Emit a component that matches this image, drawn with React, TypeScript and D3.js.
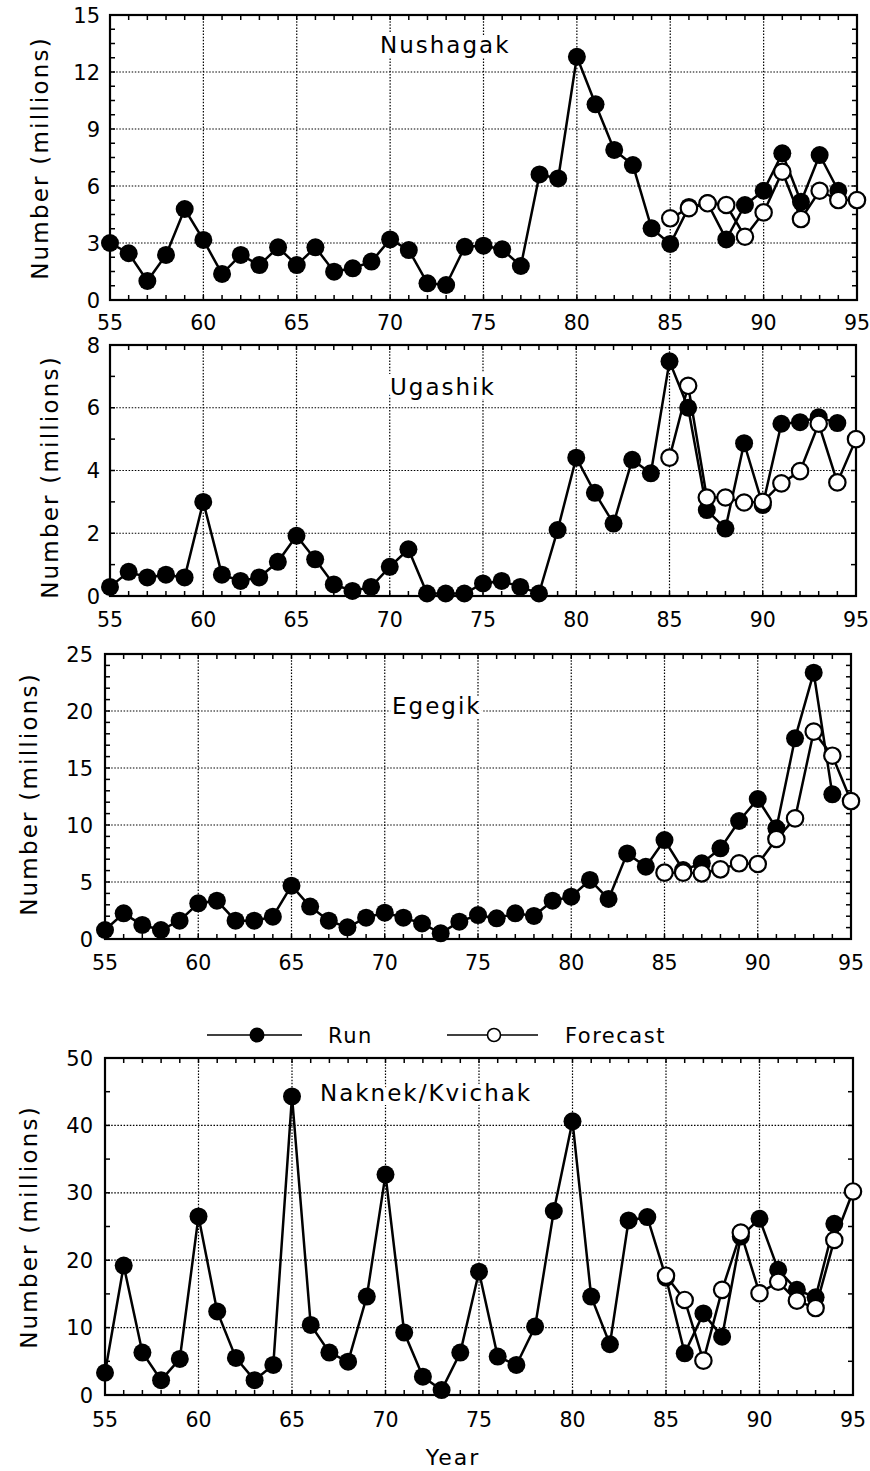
import React from "react";
import * as d3 from "d3";

// ---------- data ----------
const runYears = [55,56,57,58,59,60,61,62,63,64,65,66,67,68,69,70,71,72,73,74,75,76,77,78,79,80,81,82,83,84,85,86,87,88,89,90,91,92,93,94];
const forecastYears = [85,86,87,88,89,90,91,92,93,94,95];
const xTickYears = [55,60,65,70,75,80,85,90,95];

const nushagakRun = [3.0,2.46,1.0,2.37,4.79,3.16,1.37,2.37,1.84,2.77,1.84,2.77,1.49,1.67,2.02,3.19,2.63,0.88,0.79,2.8,2.86,2.67,1.79,6.61,6.4,12.8,10.3,7.9,7.1,3.77,2.95,4.9,5.1,3.19,5.0,5.75,7.72,5.17,7.63,5.75];
const nushagakForecast = [4.3,4.83,5.09,5.0,3.33,4.61,6.75,4.26,5.75,5.26,5.26];

const ugashikRun = [0.29,0.77,0.59,0.68,0.59,3.0,0.68,0.48,0.59,1.09,1.92,1.17,0.37,0.16,0.29,0.93,1.49,0.08,0.08,0.08,0.4,0.48,0.29,0.08,2.1,4.41,3.29,2.31,4.34,3.91,7.48,6.0,2.74,2.15,4.87,2.9,5.49,5.54,5.7,5.51];
const ugashikForecast = [4.41,6.7,3.14,3.14,2.98,3.0,3.59,3.98,5.49,3.62,5.0];

const egegikRun = [0.79,2.25,1.23,0.79,1.61,3.13,3.36,1.61,1.61,1.96,4.68,2.84,1.61,1.02,1.87,2.31,1.87,1.37,0.5,1.52,2.1,1.81,2.25,2.02,3.36,3.71,5.18,3.51,7.51,6.34,8.68,6.05,6.64,7.95,10.35,12.28,9.71,17.6,23.36,12.69];
const egegikForecast = [5.82,5.82,5.76,6.11,6.64,6.58,8.77,10.58,18.19,16.08,12.1];

const naknekRun = [3.3,19.2,6.3,2.2,5.35,26.5,12.4,5.5,2.2,4.46,44.3,10.4,6.3,4.95,14.6,32.7,9.26,2.72,0.74,6.3,18.3,5.7,4.46,10.15,27.3,40.6,14.6,7.53,25.9,26.4,17.4,6.19,12.1,8.66,23.5,26.15,18.57,15.6,14.5,25.4];
const naknekForecast = [17.7,14.1,5.1,15.6,24.1,15.1,16.8,14.0,12.9,23.0,30.2];

const nushagakYTicks = [0,3,6,9,12,15];
const ugashikYTicks = [0,2,4,6,8];
const egegikYTicks = [0,5,10,15,20,25];
const naknekYTicks = [0,10,20,30,40,50];

const titles = ["Nushagak", "Ugashik", "Egegik", "Naknek/Kvichak"];
const yAxisLabel = "Number (millions)";
const xAxisLabel = "Year";
const legendLabels = ["Run", "Forecast"];

// ---------- layout ----------
const FONT = "'DejaVu Sans', Verdana, sans-serif";
const layouts = [
  { left: 110, right: 857, top: 15, bottom: 300, minor: 0.75, titleX: 380, titleY: 53, ylabX: 48, ylabY: 158, yLabRight: 100, xLabY: 330 },
  { left: 110, right: 856, top: 345, bottom: 596, minor: 1, titleX: 390, titleY: 395, ylabX: 58, ylabY: 477, yLabRight: 100, xLabY: 627 },
  { left: 105, right: 851, top: 654, bottom: 939, minor: 1, titleX: 392, titleY: 714, ylabX: 37, ylabY: 794, yLabRight: 93, xLabY: 970 },
  { left: 105, right: 853, top: 1058, bottom: 1395, minor: 5, titleX: 320, titleY: 1101, ylabX: 37, ylabY: 1227, yLabRight: 93, xLabY: 1427 },
];

type L = typeof layouts[0];

function Panel({ lay, yTicks, run, fc, title }: { lay: L; yTicks: number[]; run: number[]; fc: number[]; title: string }) {
  const yMax = yTicks[yTicks.length - 1];
  const x = d3.scaleLinear().domain([55, 95]).range([lay.left, lay.right]);
  const y = d3.scaleLinear().domain([0, yMax]).range([lay.bottom, lay.top]);
  const line = d3.line<[number, number]>().x(d => x(d[0])).y(d => y(d[1]));
  const runPts: [number, number][] = runYears.map((yr, i) => [yr, run[i]]);
  const fcPts: [number, number][] = forecastYears.map((yr, i) => [yr, fc[i]]);
  const minorY = d3.range(0, yMax + 1e-6, lay.minor);
  const minorX = d3.range(55, 96, 1);
  const tl = 5;
  return (
    <g>
      {/* grid */}
      {xTickYears.filter(v => v > 55 && v < 95).map(v => (
        <line key={"gx" + v} x1={x(v)} x2={x(v)} y1={lay.top} y2={lay.bottom} stroke="#000" strokeWidth={1.2} strokeDasharray="1.5,1.6" />
      ))}
      {yTicks.filter(v => v > 0 && v < yMax).map(v => (
        <line key={"gy" + v} x1={lay.left} x2={lay.right} y1={y(v)} y2={y(v)} stroke="#000" strokeWidth={1.2} strokeDasharray="1.5,1.6" />
      ))}
      {/* ticks */}
      {minorX.map(v => (
        <g key={"tx" + v}>
          <line x1={x(v)} x2={x(v)} y1={lay.bottom} y2={lay.bottom - tl} stroke="#000" strokeWidth={1.5} />
          <line x1={x(v)} x2={x(v)} y1={lay.top} y2={lay.top + tl} stroke="#000" strokeWidth={1.5} />
        </g>
      ))}
      {minorY.map(v => (
        <g key={"ty" + v}>
          <line x1={lay.left} x2={lay.left + tl} y1={y(v)} y2={y(v)} stroke="#000" strokeWidth={1.5} />
          <line x1={lay.right} x2={lay.right - tl} y1={y(v)} y2={y(v)} stroke="#000" strokeWidth={1.5} />
        </g>
      ))}
      {/* frame */}
      <rect x={lay.left} y={lay.top} width={lay.right - lay.left} height={lay.bottom - lay.top} fill="none" stroke="#000" strokeWidth={2.2} />
      {/* tick labels */}
      {yTicks.map(v => (
        <text key={"yl" + v} x={lay.yLabRight} y={y(v)} dy="0.36em" textAnchor="end" fontSize={21} fontFamily={FONT}>{v}</text>
      ))}
      {xTickYears.map(v => (
        <text key={"xl" + v} x={x(v)} y={lay.xLabY} textAnchor="middle" fontSize={20.5} fontFamily={FONT}>{v}</text>
      ))}
      {/* y label */}
      <text transform={`translate(${lay.ylabX},${lay.ylabY}) rotate(-90)`} textAnchor="middle" fontSize={23} letterSpacing={2.2} fontFamily={FONT}>{yAxisLabel}</text>
      {/* title */}
      <text x={lay.titleX} y={lay.titleY} fontSize={23} letterSpacing={2} fontFamily={FONT} stroke="#fff" strokeWidth={8} paintOrder="stroke" fill="#000">{title}</text>
      {/* series */}
      <path d={line(runPts) || ""} fill="none" stroke="#000" strokeWidth={2.5} />
      <path d={line(fcPts) || ""} fill="none" stroke="#000" strokeWidth={2.5} />
      {runPts.map(p => (
        <circle key={"r" + p[0]} cx={x(p[0])} cy={y(p[1])} r={9} fill="#000" />
      ))}
      {fcPts.map(p => (
        <circle key={"f" + p[0]} cx={x(p[0])} cy={y(p[1])} r={8.2} fill="#fff" stroke="#000" strokeWidth={2.2} />
      ))}
    </g>
  );
}

export default function App() {
  const series = [
    { yTicks: nushagakYTicks, run: nushagakRun, fc: nushagakForecast },
    { yTicks: ugashikYTicks, run: ugashikRun, fc: ugashikForecast },
    { yTicks: egegikYTicks, run: egegikRun, fc: egegikForecast },
    { yTicks: naknekYTicks, run: naknekRun, fc: naknekForecast },
  ];
  return (
    <svg width={870} height={1471} viewBox="0 0 870 1471" style={{ position: "absolute", left: 0, top: 0, background: "#fff" }}>
      <rect x={0} y={0} width={870} height={1471} fill="#fff" />
      {series.map((s, i) => (
        <Panel key={i} lay={layouts[i]} yTicks={s.yTicks} run={s.run} fc={s.fc} title={titles[i]} />
      ))}
      {/* legend */}
      <g>
        <line x1={207} x2={302} y1={1035} y2={1035} stroke="#000" strokeWidth={1.3} />
        <circle cx={257} cy={1035} r={7.5} fill="#000" />
        <text x={328} y={1043} fontSize={21} letterSpacing={1.5} fontFamily={FONT}>{legendLabels[0]}</text>
        <line x1={447} x2={538} y1={1035} y2={1035} stroke="#000" strokeWidth={1.3} />
        <circle cx={494} cy={1035} r={6.5} fill="#fff" stroke="#000" strokeWidth={1.6} />
        <text x={565} y={1043} fontSize={21} letterSpacing={1.5} fontFamily={FONT}>{legendLabels[1]}</text>
      </g>
      <text x={453} y={1465} textAnchor="middle" fontSize={22} letterSpacing={2} fontFamily={FONT}>{xAxisLabel}</text>
    </svg>
  );
}
